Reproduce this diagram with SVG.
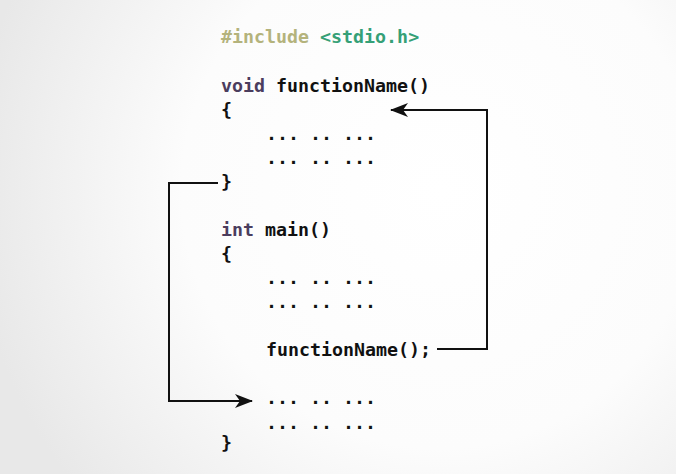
<svg xmlns="http://www.w3.org/2000/svg" width="676" height="474" viewBox="0 0 676 474">
<defs>
<radialGradient id="bg" cx="440" cy="190" r="470" gradientUnits="userSpaceOnUse">
<stop offset="0" stop-color="#ffffff"/>
<stop offset="0.55" stop-color="#fcfcfc"/>
<stop offset="1" stop-color="#e8e8e8"/>
</radialGradient>
<marker id="arr" viewBox="0 0 18 14" refX="17" refY="7" markerWidth="18" markerHeight="14" markerUnits="userSpaceOnUse" orient="auto">
<path d="M0,0 L18,7 L0,14 L5,7 Z" fill="#111"/>
</marker>
<style>
.code{font-family:"DejaVu Sans Mono","Liberation Mono",monospace;font-size:18.3px;font-weight:bold;fill:#111;white-space:pre}
.pp{fill:#b4b37c}
.hdr{fill:#35a077}
.kw{fill:#4b3d5e}
.conn{fill:none;stroke:#111;stroke-width:2}
</style>
</defs>
<rect width="676" height="474" fill="url(#bg)"/>
<g id="include"><text class="code" x="221" y="43"><tspan class="pp">#include</tspan> <tspan class="hdr">&lt;stdio.h&gt;</tspan></text></g>
<g id="function">
<text class="code" x="221" y="92"><tspan class="kw">void</tspan> functionName()</text>
<text class="code" x="221" y="116">{</text>
<text class="code" x="266" y="140">... .. ...</text>
<text class="code" x="266" y="164">... .. ...</text>
<text class="code" x="221" y="188">}</text>
</g>
<g id="main">
<text class="code" x="221" y="236"><tspan class="kw">int</tspan> main()</text>
<text class="code" x="221" y="260">{</text>
<text class="code" x="266" y="284">... .. ...</text>
<text class="code" x="266" y="308">... .. ...</text>
<text class="code" x="266" y="356">functionName();</text>
<text class="code" x="266" y="404">... .. ...</text>
<text class="code" x="266" y="429">... .. ...</text>
<text class="code" x="221" y="449">}</text>
</g>
<g id="connectors">
<path class="conn" d="M437,349 H487 V110 H391" marker-end="url(#arr)"/>
<path class="conn" d="M218,183 H169 V401 H252" marker-end="url(#arr)"/>
</g>
</svg>
